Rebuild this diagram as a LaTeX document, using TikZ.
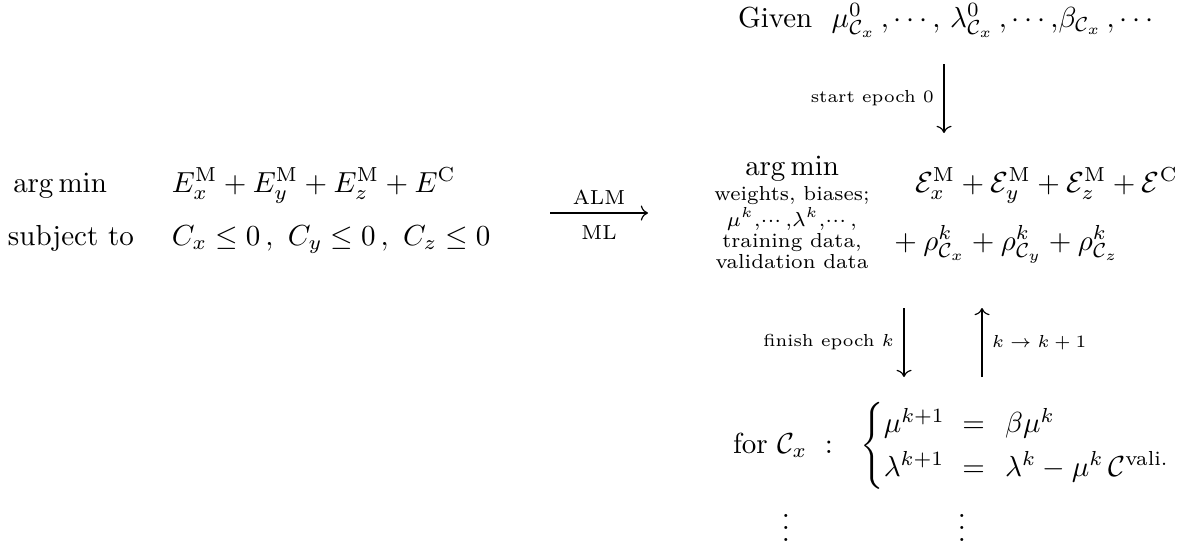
\documentclass[tikz,border=0pt]{standalone}
\usepackage{amsmath,amssymb}
\usetikzlibrary{arrows.meta}
\begin{document}
\begin{tikzpicture}[x=0.3448pt,y=-0.3448pt,
  txt/.style={inner sep=0pt,outer sep=0pt},
  lbl/.style={inner sep=0pt,outer sep=0pt,font=\fontsize{6}{7}\selectfont},
  arlbl/.style={inner sep=0pt,outer sep=0pt,font=\scriptsize},
  arr/.style={line width=0.4pt,-{Computer Modern Rightarrow}}]
\useasboundingbox (0,0) rectangle (1191,549);
% left problem
\node[txt,anchor=base west] (am) at (13,192) {$\arg\min$};
\node[txt,anchor=base west] (st) at (8,245) {subject to};
\node[txt,anchor=base west] (obj) at (172,192) {$E_x^{\mathrm M}+E_y^{\mathrm M}+E_z^{\mathrm M}+E^{\mathrm C}$};
\node[txt,anchor=base west] (con) at (172,245) {$C_x\le 0\,,\ C_y\le 0\,,\ C_z\le 0$};
% ALM arrow
\coordinate (a1) at (550,213);
\coordinate (a2) at (648,213);
\draw[arr] (a1) -- node[arlbl,above=3pt]{ALM} node[arlbl,below=4.5pt]{ML} (a2);
% given
\node[txt,anchor=base west] (giv) at (738,27) {Given\ \ $\mu^0_{\mathcal C_x}\,{,}\cdots{,}\ \lambda^0_{\mathcal C_x}\,{,}\cdots{,}\beta_{\mathcal C_x}\,{,}\cdots$};
\coordinate (s1) at (944,64);
\coordinate (s2) at (944,133);
\draw[arr] (s1) -- node[lbl,left=3.5pt]{start epoch 0} (s2);
% argmin block
\node[txt,anchor=base] (am2) at (792,176) {$\displaystyle\mathop{\mathrm{arg\,min}}_{\substack{\text{weights, biases;}\\ \mu^k,\cdots,\lambda^k,\cdots,\\ \text{training data,}\\ \text{validation data}}}$};
\node[txt,anchor=base west] (obj2) at (915,192) {$\mathcal E_x^{\mathrm M}+\mathcal E_y^{\mathrm M}+\mathcal E_z^{\mathrm M}+\mathcal E^{\mathrm C}$};
\node[txt,anchor=base west] (pen) at (888,250) {${}+\rho^k_{\mathcal C_x}+\rho^k_{\mathcal C_y}+\rho^k_{\mathcal C_z}$};
% loop arrows
\coordinate (d1) at (904,308);
\coordinate (d2) at (904,377);
\draw[arr] (d1) -- node[lbl,left=3.5pt]{finish epoch $k$} (d2);
\coordinate (u1) at (982,377);
\coordinate (u2) at (982,308);
\draw[arr] (u1) -- node[lbl,right=3.5pt]{$k\to k+1$} (u2);
% update
\node[txt,anchor=base west] (upd) at (733,453) {for $\mathcal C_x\ :\ \ \renewcommand{\arraystretch}{1.25}\left\{\begin{array}{@{}l@{\hspace{6pt}}c@{\hspace{7pt}}l@{}}\mu^{k+1} & = & \beta\mu^k\\ \lambda^{k+1} & = & \lambda^k-\mu^k\,\mathcal C^{\text{vali.}}\end{array}\right.$};
\node[txt,anchor=south] (v1) at (786,541) {$\vdots$};
\node[txt,anchor=south] (v2) at (962,541) {$\vdots$};
\end{tikzpicture}
\end{document}
